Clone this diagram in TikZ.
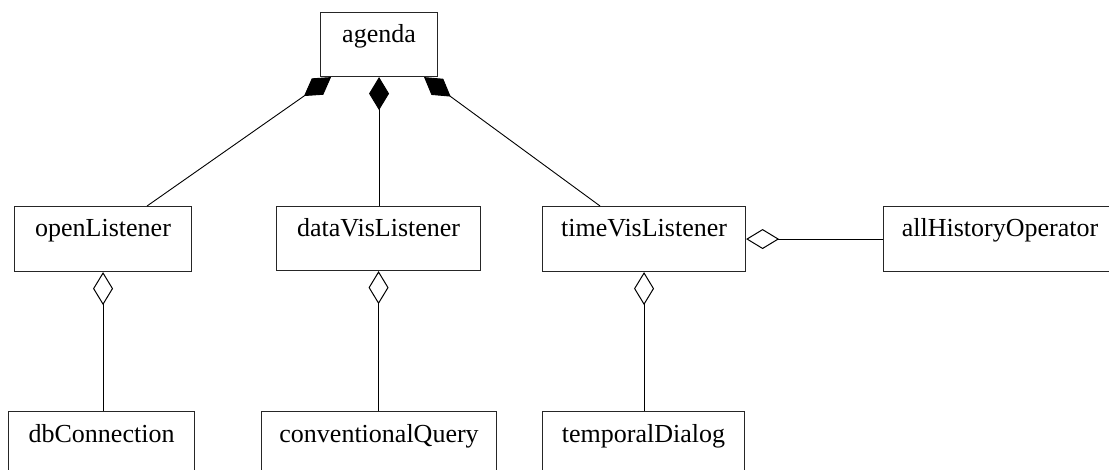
\documentclass[tikz,border=0pt]{standalone}
\usepackage{fontspec}
\setmainfont{Liberation Serif}
\usetikzlibrary{arrows.meta}
\begin{document}
\begin{tikzpicture}[x=1pt,y=-1pt,
  box/.style={draw=black!85, line width=1.1pt, inner sep=0pt, anchor=north west},
  lbl/.style={font=\fontsize{26}{30}\selectfont, inner sep=0pt, anchor=base},
  conn/.style={line width=0.9pt},
  comp/.style={conn, -{Diamond[length=33pt,width=20pt,fill=black]}},
  aggr/.style={conn, -{Diamond[open,length=33pt,width=20pt,fill=white,line width=1pt]}}]
\clip (0,0) rectangle (1109,470);
% boxes
\node[box, minimum width=117pt, minimum height=64pt] (agenda) at (320,12) {};
\node[box, minimum width=177pt, minimum height=65pt] (openListener) at (14,206) {};
\node[box, minimum width=204pt, minimum height=64pt] (dataVisListener) at (276,206) {};
\node[box, minimum width=203pt, minimum height=65pt] (timeVisListener) at (542,206) {};
\node[box, minimum width=233pt, minimum height=65pt] (allHistoryOperator) at (883,206) {};
\node[box, minimum width=186pt, minimum height=70pt] (dbConnection) at (8,411) {};
\node[box, minimum width=235pt, minimum height=70pt] (conventionalQuery) at (261,411) {};
\node[box, minimum width=202pt, minimum height=70pt] (temporalDialog) at (542,411) {};
% labels
\node[lbl] (agendaT) at ([yshift=-31pt]agenda.north) {agenda};
\node[lbl] (openListenerT) at ([yshift=-31pt]openListener.north) {openListener};
\node[lbl] (dataVisListenerT) at ([yshift=-31pt]dataVisListener.north) {dataVisListener};
\node[lbl] (timeVisListenerT) at ([yshift=-31pt]timeVisListener.north) {timeVisListener};
\node[lbl] (allHistoryOperatorT) at ([yshift=-31pt]allHistoryOperator.north) {allHistoryOperator};
\node[lbl] (dbConnectionT) at ([yshift=-31pt]dbConnection.north) {dbConnection};
\node[lbl] (conventionalQueryT) at ([yshift=-31pt]conventionalQuery.north) {conventionalQuery};
\node[lbl] (temporalDialogT) at ([yshift=-31pt]temporalDialog.north) {temporalDialog};
% compositions
\draw[comp] ([xshift=44pt]openListener.north) -- ([xshift=-48pt]agenda.south);
\draw[comp] (agenda.south |- dataVisListener.north) -- (agenda.south);
\draw[comp] ([xshift=-44pt]timeVisListener.north) -- ([xshift=45pt]agenda.south);
% aggregations
\draw[aggr] (openListener.south |- dbConnection.north) -- (openListener.south);
\draw[aggr] (dataVisListener.south |- conventionalQuery.north) -- (dataVisListener.south);
\draw[aggr] (timeVisListener.south |- temporalDialog.north) -- (timeVisListener.south);
\draw[aggr] (allHistoryOperator.west) -- (timeVisListener.east);
\end{tikzpicture}
\end{document}
